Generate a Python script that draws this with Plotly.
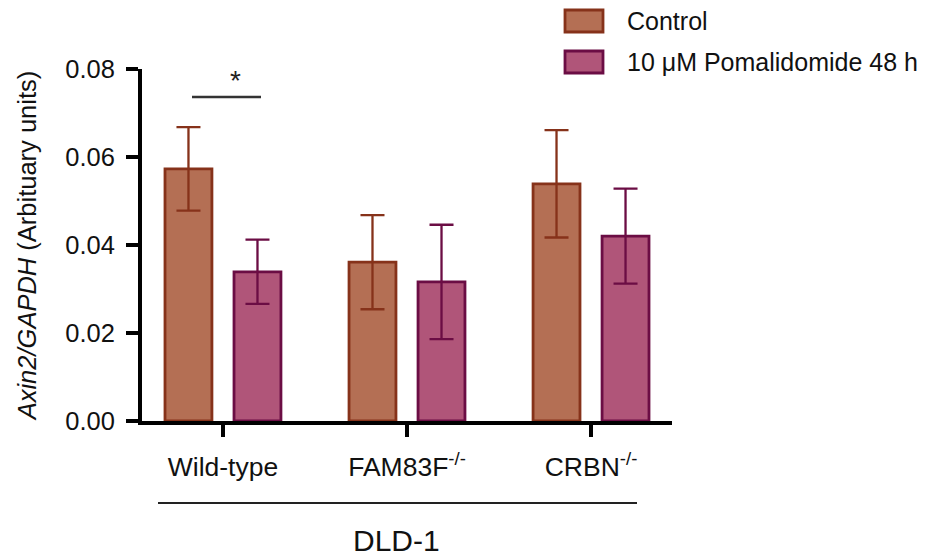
import plotly.graph_objects as go

categories = ["Wild-type", "FAM83F<sup>-/-</sup>", "CRBN<sup>-/-</sup>"]
control_mean = [0.0573, 0.0361, 0.0539]
control_err = [0.0095, 0.0107, 0.0122]
pom_mean = [0.0339, 0.0316, 0.0420]
pom_err = [0.0073, 0.0130, 0.0108]
series_names = ["Control", "10 μM Pomalidomide 48 h"]
y_ticks = [0.00, 0.02, 0.04, 0.06, 0.08]

FONT = "Arial, Liberation Sans, sans-serif"
c_fill, c_line = "#B46F54", "#86321A"
p_fill, p_line = "#B05579", "#6B0D44"

# page body has an 8px margin; compensate so the plot lands where the reference has it
OFF = 8
L, R, T, B = 142, 672, 69, 421  # target plot-area pixel box in the 934x559 window
W, H = 934 - OFF, 559 - OFF
PW, PH = R - L, B - T


def px(x):
    return (x - L) / PW


def py(y):
    return (B - y) / PH


fig = go.Figure()
fig.add_trace(go.Bar(
    x=categories, y=control_mean, name=series_names[0],
    marker=dict(color=c_fill, line=dict(color=c_line, width=2.8)),
    error_y=dict(type="data", array=control_err, color=c_line, thickness=2.3, width=12),
    showlegend=False,
))
fig.add_trace(go.Bar(
    x=categories, y=pom_mean, name=series_names[1],
    marker=dict(color=p_fill, line=dict(color=p_line, width=2.8)),
    error_y=dict(type="data", array=pom_err, color=p_line, thickness=2.3, width=12),
    showlegend=False,
))

fig.update_layout(
    width=W, height=H,
    margin=dict(l=L - OFF, r=934 - R, t=T - OFF, b=559 - B),
    paper_bgcolor="white", plot_bgcolor="white",
    barmode="group", bargap=0.25, bargroupgap=0.32,
    font=dict(family=FONT, size=24, color="#111"),
    xaxis=dict(
        range=[-0.44, 2.44], showline=True, linecolor="black", linewidth=4,
        ticks="outside", ticklen=12, tickwidth=4, tickcolor="black",
        ticklabelstandoff=7, showgrid=False, zeroline=False,
        tickfont=dict(size=26.5, family=FONT, color="#111"),
    ),
    yaxis=dict(
        range=[0, 0.08], tickvals=y_ticks, ticktext=[f"{v:.2f}" for v in y_ticks],
        showline=True, linecolor="black", linewidth=4,
        ticks="outside", ticklen=12, tickwidth=4, tickcolor="black",
        ticklabelstandoff=6,
        showgrid=False, zeroline=False,
        tickfont=dict(size=25.5, family=FONT, color="#111"),
        title=dict(text="<i>Axin2/GAPDH</i> (Arbituary units)", standoff=22,
                   font=dict(size=25.5, family=FONT, color="#111")),
    ),
)

# significance bracket
fig.add_shape(type="line", xref="paper", yref="paper",
              x0=px(192), x1=px(261), y0=py(97), y1=py(97),
              line=dict(color="#333", width=2.5))
fig.add_annotation(text="*", xref="paper", yref="paper",
                   x=px(228), y=py(80),
                   showarrow=False, font=dict(size=28, family=FONT, color="#222"),
                   yanchor="middle")

# group line and label
fig.add_shape(type="line", xref="paper", yref="paper",
              x0=px(158), x1=px(637), y0=py(503), y1=py(503),
              line=dict(color="#222", width=2))
fig.add_annotation(text="DLD-1", xref="paper", yref="paper",
                   x=px(396), y=py(540),
                   showarrow=False, font=dict(size=30, family=FONT, color="#111"),
                   yanchor="middle")

# legend (manual, large swatches)
legend_rows = [(21, c_fill, c_line), (62, p_fill, p_line)]
for (cy, fc, lc), name in zip(legend_rows, series_names):
    fig.add_shape(type="rect", xref="paper", yref="paper",
                  x0=px(565), x1=px(603), y0=py(cy + 11), y1=py(cy - 11),
                  fillcolor=fc, line=dict(color=lc, width=2.8))
    fig.add_annotation(text=name, xref="paper", yref="paper",
                       x=px(625), y=py(cy),
                       xanchor="left", yanchor="middle", showarrow=False,
                       font=dict(size=25, family=FONT, color="#111"))

fig.write_html("out.html")
